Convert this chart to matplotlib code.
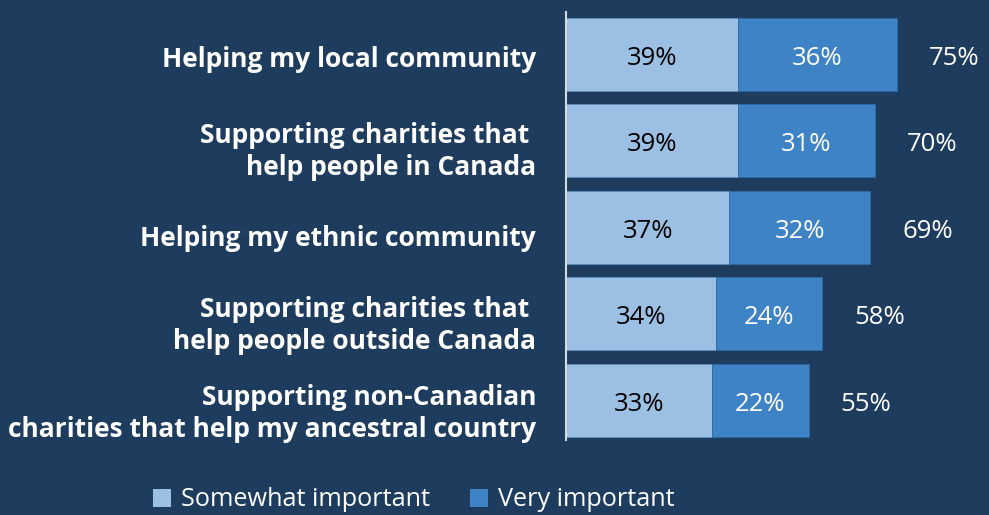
import matplotlib
matplotlib.use("Agg")
import matplotlib.pyplot as plt
import matplotlib.transforms as mtransforms
from matplotlib.patches import Patch

categories = [
    "Helping my local community",
    "Supporting charities that \nhelp people in Canada",
    "Helping my ethnic community",
    "Supporting charities that \nhelp people outside Canada",
    "Supporting non-Canadian\ncharities that help my ancestral country",
]
somewhat = [39, 39, 37, 34, 33]
very = [36, 31, 32, 24, 22]
totals = [75, 70, 69, 58, 55]

BG = "#1D3C5E"
LIGHT = "#9BC0E3"
DARK = "#3E83C5"
FONT = "Open Sans"

W, H = 989, 515
fig = plt.figure(figsize=(W / 100, H / 100), dpi=100, facecolor=BG)
ax = fig.add_axes([566 / W, 1 - 440 / H, (W - 566) / W, 428 / H])
ax.set_facecolor(BG)

y = list(range(len(categories)))
bh = 0.844
ax.barh(y, somewhat, height=bh, color=LIGHT, edgecolor="#5F8FBF", linewidth=0.6)
ax.barh(y, very, left=somewhat, height=bh, color=DARK, edgecolor="#2F6AA3", linewidth=0.6)

# nudge value labels slightly downward so the digits sit centred in the bars
val_tr = ax.transData + mtransforms.ScaledTranslation(0, -4 / 100, fig.dpi_scale_trans)
for i in y:
    ax.text(somewhat[i] / 2, i, f"{somewhat[i]}%", ha="center", va="center",
            color="black", fontsize=18.5, family=FONT, transform=val_tr)
    ax.text(somewhat[i] + very[i] / 2, i, f"{very[i]}%", ha="center", va="center",
            color="white", fontsize=18.5, family=FONT, transform=val_tr)
    ax.text(totals[i] + 7.3, i, f"{totals[i]}%", ha="left", va="center",
            color="white", fontsize=18.5, family=FONT, transform=val_tr)

ax.set_xlim(0, (W - 566) / 4.41)
ax.set_ylim(4.457, -0.491)
ax.set_xticks([])
ax.set_yticks(y)
ax.set_yticklabels(categories, color="white", fontsize=19, fontweight="bold",
                   family=FONT, linespacing=1.2)
ax.tick_params(axis="y", length=0, pad=21.6)
label_drop = [2.5, 5.5, 8.5, 6.5, 8.0]  # pixels
for lab, d in zip(ax.get_yticklabels(), label_drop):
    lab.set_transform(lab.get_transform()
                      + mtransforms.ScaledTranslation(0, -d / 100, fig.dpi_scale_trans))
for s in ["top", "right", "bottom"]:
    ax.spines[s].set_visible(False)
ax.spines["left"].set_color("#D9D9D9")
ax.spines["left"].set_linewidth(1.5)

handles = [Patch(facecolor=LIGHT, label="Somewhat important"),
           Patch(facecolor=DARK, label="Very important")]
leg = fig.legend(handles=handles, loc="center", bbox_to_anchor=(414 / W, 1 - 500 / H),
                 ncol=2, frameon=False, handlelength=0.7, handleheight=0.7,
                 handletextpad=0.4, columnspacing=1.6, prop={"family": FONT, "size": 18.2})
for t in leg.get_texts():
    t.set_color("white")

fig.savefig("out.png", dpi=100, facecolor=BG)
